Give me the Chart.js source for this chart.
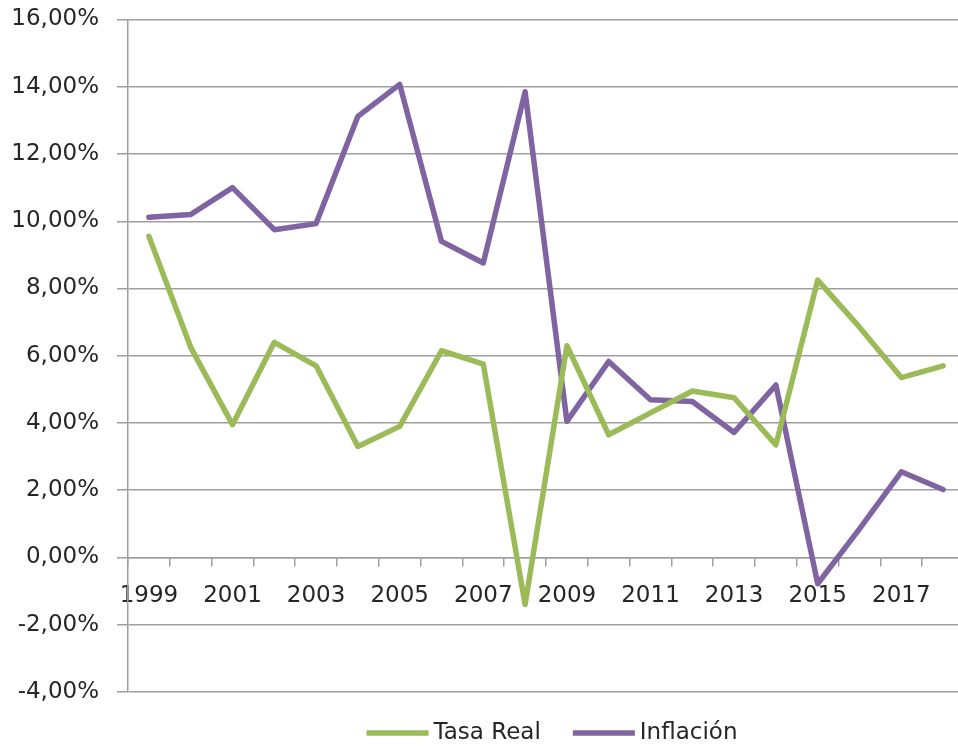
<!DOCTYPE html>
<html>
<head>
<meta charset="utf-8">
<script src="https://cdn.jsdelivr.net/npm/chart.js@4/dist/chart.umd.min.js"></script>
<style>
    html, body { margin: 0; padding: 0; background: #fff; overflow: hidden; }
    #wrap { width: 966px; height: 748px; }
</style>
</head>
<body>
<div id="wrap"><canvas id="lineChart" width="966" height="748"></canvas></div>
<script>
const years = ['1999', '2000', '2001', '2002', '2003', '2004', '2005', '2006', '2007', '2008',
    '2009', '2010', '2011', '2012', '2013', '2014', '2015', '2016', '2017', '2018'];

// valores en %
const tasaReal = [9.55, 6.25, 3.95, 6.40, 5.70, 3.30, 3.90, 6.15, 5.75, -1.40,
    6.30, 3.65, 4.30, 4.95, 4.75, 3.35, 8.25, 6.85, 5.35, 5.70];
const inflacion = [10.12, 10.20, 11.00, 9.75, 9.93, 13.12, 14.07, 9.40, 8.76, 13.85,
    4.05, 5.83, 4.69, 4.64, 3.72, 5.13, -0.78, 0.85, 2.55, 2.02];

const yTicks = [-4, -2, 0, 2, 4, 6, 8, 10, 12, 14, 16];

const FONT = 'DejaVu Sans';
const TEXT = '#262626';
const GRID = '#9f9f9f';

// leyenda dibujada a mano: linea + texto, centrada bajo el grafico
const lineLegend = {
    id: 'lineLegend',
    afterDraw(chart) {
        const ctx = chart.ctx;
        const area = chart.chartArea;
        const lineLen = 62, gap = 5, itemGap = 32;
        ctx.save();
        ctx.font = '23px "' + FONT + '"';
        const items = chart.data.datasets.map(ds => ({
            text: ds.label,
            color: ds.borderColor,
            w: ctx.measureText(ds.label).width
        }));
        let total = 0;
        items.forEach((it, i) => { total += lineLen + gap + it.w + (i > 0 ? itemGap : 0); });
        let x = (area.left + area.right) / 2 + 6 - total / 2;
        const y = 733;
        items.forEach(it => {
            ctx.strokeStyle = it.color;
            ctx.lineWidth = 5.5;
            ctx.lineCap = 'butt';
            ctx.beginPath();
            ctx.moveTo(x, y);
            ctx.lineTo(x + lineLen, y);
            ctx.stroke();
            x += lineLen + gap;
            ctx.fillStyle = TEXT;
            ctx.textBaseline = 'middle';
            ctx.textAlign = 'left';
            ctx.fillText(it.text, x, y);
            x += it.w + itemGap;
        });
        ctx.restore();
    }
};

const ctx = document.getElementById('lineChart').getContext('2d');
new Chart(ctx, {
    type: 'line',
    data: {
        labels: years,
        datasets: [
            {
                label: 'Tasa Real',
                data: tasaReal,
                borderColor: '#9bbb59',
                borderWidth: 5.5,
                pointRadius: 0,
                borderJoinStyle: 'round',
                borderCapStyle: 'round',
                tension: 0,
                fill: false
            },
            {
                label: 'Inflación',
                data: inflacion,
                borderColor: '#8064a2',
                borderWidth: 5.5,
                pointRadius: 0,
                borderJoinStyle: 'round',
                borderCapStyle: 'round',
                tension: 0,
                fill: false
            }
        ]
    },
    options: {
        responsive: false,
        animation: false,
        layout: {
            padding: { top: 19.5, right: 2, bottom: 56, left: 0 }
        },
        plugins: {
            legend: { display: false },
            tooltip: { enabled: false }
        },
        scales: {
            x: {
                position: { y: 0 },
                offset: true,
                grid: {
                    offset: true,
                    drawOnChartArea: false,
                    drawTicks: true,
                    tickLength: 8,
                    color: GRID,
                    lineWidth: 1.5
                },
                border: { color: GRID, width: 1.5 },
                ticks: {
                    autoSkip: false,
                    maxRotation: 0,
                    padding: 17,
                    color: TEXT,
                    font: { family: FONT, size: 23 },
                    callback: (v, i) => (i % 2 === 0 ? years[i] : '')
                }
            },
            y: {
                min: -4,
                max: 16,
                afterBuildTicks: scale => {
                    scale.ticks = yTicks.map(v => ({ value: v }));
                },
                afterFit: scale => {
                    scale.width = 128;
                    // el area del grafico la fija layout.padding
                    scale.paddingTop = 0;
                    scale.paddingBottom = 0;
                },
                grid: {
                    color: GRID,
                    lineWidth: 1.5,
                    tickLength: 11
                },
                border: { color: GRID, width: 1.5 },
                ticks: {
                    padding: 18,
                    color: TEXT,
                    font: { family: FONT, size: 23 },
                    callback: v => v.toFixed(2).replace('.', ',') + '%'
                }
            }
        }
    },
    plugins: [lineLegend]
});
</script>
</body>
</html>
